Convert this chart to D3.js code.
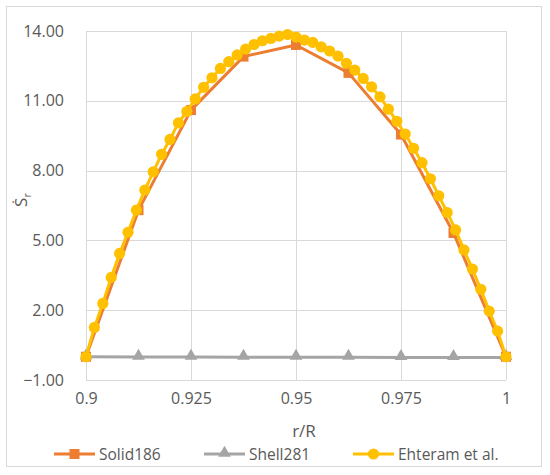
<!DOCTYPE html>
<html>
<head>
<meta charset="utf-8">
<script src="https://cdn.jsdelivr.net/npm/d3@7"></script>
<style>
  html, body { margin: 0; padding: 0; background: #fff; }
  svg text { font-family: "Open Sans", "Liberation Sans", sans-serif; fill: #595959; }
</style>
</head>
<body>
<svg id="chart" width="550" height="475"></svg>
<script>
// ---- data ----
const solidX = [0.9, 0.9125, 0.925, 0.9375, 0.95, 0.9625, 0.975, 0.9875, 1.0];
const solidY = [0, 6.3, 10.6, 12.9, 13.4, 12.2, 9.55, 5.32, 0];

const shellX = [0.9, 0.9125, 0.925, 0.9375, 0.95, 0.9625, 0.975, 0.9875, 1.0];
const shellY = [0, -0.01, -0.01, -0.02, -0.02, -0.02, -0.03, -0.03, -0.03];

const ehtX = [0.900, 0.902, 0.904, 0.906, 0.908, 0.910, 0.912, 0.914, 0.916, 0.918,
              0.920, 0.922, 0.924, 0.926, 0.928, 0.930, 0.932, 0.934, 0.936, 0.938,
              0.940, 0.942, 0.944, 0.946, 0.948, 0.950, 0.952, 0.954, 0.956, 0.958,
              0.960, 0.962, 0.964, 0.966, 0.968, 0.970, 0.972, 0.974, 0.976, 0.978,
              0.980, 0.982, 0.984, 0.986, 0.988, 0.990, 0.992, 0.994, 0.996, 0.998, 1.000];
const ehtY = [0, 1.26, 2.29, 3.41, 4.44, 5.35, 6.3, 7.16, 7.95, 8.70,
              9.34, 10.05, 10.54, 11.08, 11.58, 11.99, 12.39, 12.68, 12.97, 13.22,
              13.42, 13.58, 13.68, 13.78, 13.85, 13.74, 13.61, 13.51, 13.32, 13.14,
              12.92, 12.61, 12.32, 11.96, 11.6, 11.17, 10.64, 10.12, 9.57, 8.96,
              8.34, 7.65, 6.92, 6.2, 5.45, 4.59, 3.77, 2.9, 1.96, 1.1, 0];

const xTicks = [0.9, 0.925, 0.95, 0.975, 1.0];
const xTickLabels = ["0.9", "0.925", "0.95", "0.975", "1"];
const yTicks = [-1, 2, 5, 8, 11, 14];
const yTickLabels = ["\u22121.00", "2.00", "5.00", "8.00", "11.00", "14.00"];
const seriesNames = ["Solid186", "Shell281", "Ehteram et al."];
const seriesColors = ["#ED7D31", "#A5A5A5", "#FFC000"];

// ---- layout ----
const svg = d3.select("#chart");
const plot = { left: 86, right: 506, top: 31, bottom: 380 };

svg.append("rect")
  .attr("x", 6.5).attr("y", 6.5).attr("width", 535).attr("height", 460)
  .attr("fill", "#fff").attr("stroke", "#D9D9D9").attr("stroke-width", 1);

const x = d3.scaleLinear().domain([0.9, 1.0]).range([plot.left, plot.right]);
const y = d3.scaleLinear().domain([-1, 14]).range([plot.bottom, plot.top]);

// gridlines
const grid = svg.append("g");
grid.selectAll("line.h").data(yTicks).enter().append("line")
  .attr("x1", plot.left).attr("x2", plot.right)
  .attr("y1", d => Math.round(y(d)) + 0.5).attr("y2", d => Math.round(y(d)) + 0.5)
  .attr("stroke", "#D9D9D9").attr("stroke-width", 1);
grid.selectAll("line.v").data(xTicks).enter().append("line")
  .attr("y1", plot.top).attr("y2", plot.bottom)
  .attr("x1", d => Math.round(x(d)) + 0.5).attr("x2", d => Math.round(x(d)) + 0.5)
  .attr("stroke", "#D9D9D9").attr("stroke-width", 1);

// axes (labels only)
const yAxis = d3.axisLeft(y).tickValues(yTicks).tickSize(0).tickPadding(0)
  .tickFormat((d, i) => yTickLabels[i]);
const yg = svg.append("g").attr("transform", `translate(64,0)`).call(yAxis);
yg.select(".domain").remove();
yg.selectAll("text").style("font-size", "16px").attr("fill", "#595959")
  .style("font-family", '"Open Sans", sans-serif');

const xAxis = d3.axisBottom(x).tickValues(xTicks).tickSize(0).tickPadding(0)
  .tickFormat((d, i) => xTickLabels[i]);
const xg = svg.append("g").attr("transform", `translate(0,${plot.bottom + 13})`).call(xAxis);
xg.select(".domain").remove();
xg.selectAll("text").style("font-size", "16px").attr("fill", "#595959")
  .style("font-family", '"Open Sans", sans-serif');

// axis titles
svg.append("text").attr("x", 304).attr("y", 437).attr("text-anchor", "middle")
  .style("font-size", "17px").text("r/R");
const yt = svg.append("text")
  .attr("transform", "translate(27,200) rotate(-90)")
  .attr("text-anchor", "middle").style("font-size", "17px");
yt.append("tspan").text("\u1E60");
yt.append("tspan").attr("dy", 4).style("font-size", "11px").text("r");

// series
const line = d3.line().x(d => x(d[0])).y(d => y(d[1]));
const solid = solidX.map((v, i) => [v, solidY[i]]);
const shell = shellX.map((v, i) => [v, shellY[i]]);
const eht = ehtX.map((v, i) => [v, ehtY[i]]);

const triPath = d3.symbol().type(d3.symbolTriangle).size(70)();

// Solid186
svg.append("path").datum(solid).attr("d", line).attr("fill", "none")
  .attr("stroke", seriesColors[0]).attr("stroke-width", 3).attr("stroke-linejoin", "round");
svg.selectAll("rect.sq").data(solid).enter().append("rect")
  .attr("x", d => x(d[0]) - 5).attr("y", d => y(d[1]) - 5)
  .attr("width", 10).attr("height", 10).attr("fill", seriesColors[0]);

// Shell281
svg.append("path").datum(shell).attr("d", line).attr("fill", "none")
  .attr("stroke", seriesColors[1]).attr("stroke-width", 3);
svg.selectAll("path.tri").data(shell).enter().append("path")
  .attr("d", triPath)
  .attr("transform", d => `translate(${x(d[0])},${y(d[1]) - 1})`)
  .attr("fill", seriesColors[1]);

// Ehteram
svg.append("path").datum(eht).attr("d", line).attr("fill", "none")
  .attr("stroke", seriesColors[2]).attr("stroke-width", 3).attr("stroke-linejoin", "round");
svg.selectAll("circle.ci").data(eht).enter().append("circle")
  .attr("cx", d => x(d[0])).attr("cy", d => y(d[1])).attr("r", 5.6)
  .attr("fill", seriesColors[2]);

// legend
const legendItems = [
  { lx: 54, tx: 99 },
  { lx: 204, tx: 249 },
  { lx: 353, tx: 398 }
];
const ly = 454;
legendItems.forEach((it, i) => {
  const g = svg.append("g");
  g.append("line").attr("x1", it.lx).attr("x2", it.lx + 41)
    .attr("y1", ly).attr("y2", ly).attr("stroke", seriesColors[i]).attr("stroke-width", 3);
  const cx = it.lx + 20.5;
  if (i === 0) {
    g.append("rect").attr("x", cx - 5).attr("y", ly - 5).attr("width", 10).attr("height", 10)
      .attr("fill", seriesColors[0]);
  } else if (i === 1) {
    g.append("path").attr("d", triPath).attr("transform", `translate(${cx},${ly - 1})`)
      .attr("fill", seriesColors[1]);
  } else {
    g.append("circle").attr("cx", cx).attr("cy", ly).attr("r", 5.6).attr("fill", seriesColors[2]);
  }
  g.append("text").attr("x", it.tx).attr("y", ly + 5.5)
    .style("font-size", "15.5px").text(seriesNames[i]);
});
</script>
</body>
</html>
